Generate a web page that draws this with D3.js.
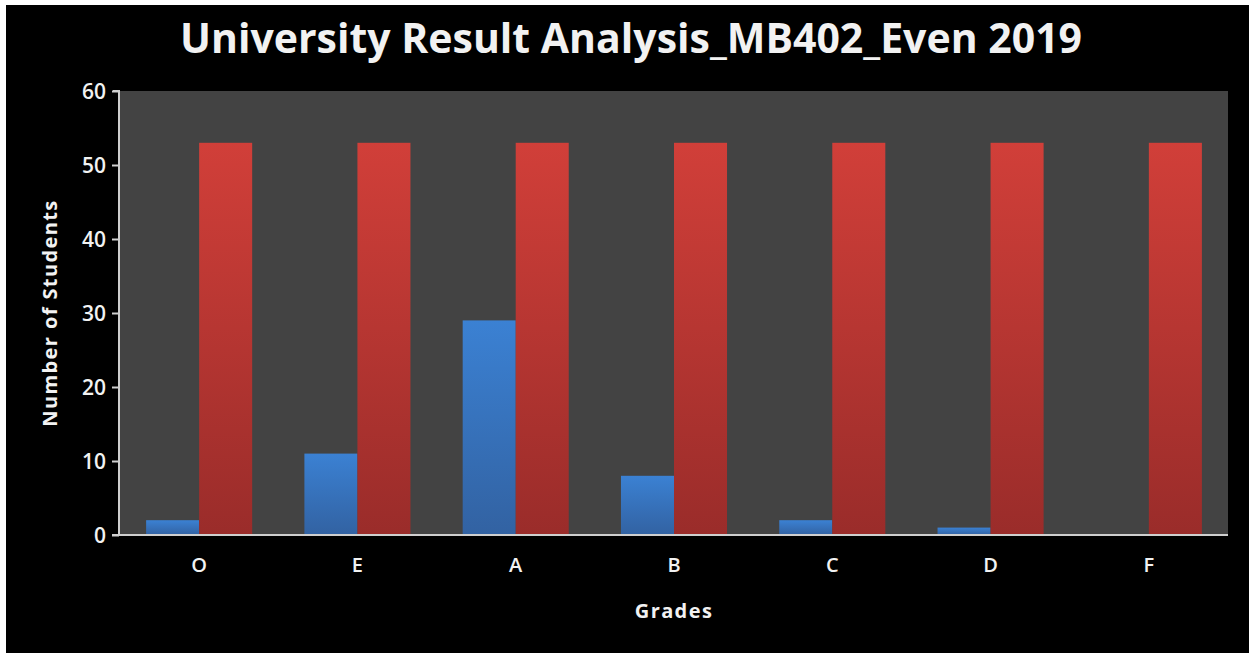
<!DOCTYPE html>
<html>
<head>
<meta charset="utf-8">
<script src="https://cdn.jsdelivr.net/npm/d3@7"></script>
<style>
  html, body { margin: 0; padding: 0; background: #fff; }
  svg { display: block; }
  text { font-family: "Open Sans", "Noto Sans", sans-serif; fill: #f2f2f2; }
</style>
</head>
<body>
<svg id="chart" width="1249" height="653"></svg>
<script>
// Grade categories and student counts
const grades = ["O", "E", "A", "B", "C", "D", "F"];
const gradeCounts = [2, 11, 29, 8, 2, 1, 0];
const totalStudents = [53, 53, 53, 53, 53, 53, 53];
const yTicks = [0, 10, 20, 30, 40, 50, 60];

const W = 1249, H = 653;
const margin = { left: 120, right: 21, top: 91, bottom: 118 };
const svg = d3.select("#chart");

// black canvas (thin white strip left and top)
svg.append("rect").attr("x", 6).attr("y", 5).attr("width", W - 6).attr("height", H - 5).attr("fill", "#000");

const defs = svg.append("defs");
const blueGrad = defs.append("linearGradient").attr("id", "gBlue").attr("x1", 0).attr("y1", 0).attr("x2", 0).attr("y2", 1);
blueGrad.append("stop").attr("offset", "0%").attr("stop-color", "#3b81d3");
blueGrad.append("stop").attr("offset", "100%").attr("stop-color", "#3262a2");
const redGrad = defs.append("linearGradient").attr("id", "gRed").attr("x1", 0).attr("y1", 0).attr("x2", 0).attr("y2", 1);
redGrad.append("stop").attr("offset", "0%").attr("stop-color", "#d13f39");
redGrad.append("stop").attr("offset", "100%").attr("stop-color", "#9a2c2a");

const x0 = margin.left, x1 = W - margin.right;
const y0 = H - margin.bottom, y1 = margin.top;

const x = d3.scaleBand().domain(grades).range([x0, x1]).paddingInner(0.33).paddingOuter(0.165);
const xs = d3.scaleBand().domain(["grade", "total"]).range([0, x.bandwidth()]);
const y = d3.scaleLinear().domain([0, 60]).range([y0, y1]);

// plot background
svg.append("rect").attr("x", x0).attr("y", y1).attr("width", x1 - x0).attr("height", y0 - y1).attr("fill", "#434343");

// bars
const groups = svg.append("g").selectAll("g").data(grades).join("g")
  .attr("transform", d => `translate(${x(d)},0)`);
groups.append("rect")
  .attr("x", xs("grade")).attr("width", xs.bandwidth())
  .attr("y", (d, i) => y(gradeCounts[i])).attr("height", (d, i) => y(0) - y(gradeCounts[i]))
  .attr("fill", "url(#gBlue)");
groups.append("rect")
  .attr("x", xs("total")).attr("width", xs.bandwidth())
  .attr("y", (d, i) => y(totalStudents[i])).attr("height", (d, i) => y(0) - y(totalStudents[i]))
  .attr("fill", "url(#gRed)");

// y axis
const yAxis = svg.append("g").attr("transform", `translate(${x0 - 1},0)`)
  .call(d3.axisLeft(y).tickValues(yTicks).tickSize(7).tickPadding(6));
yAxis.selectAll("path, line").attr("stroke", "#cfcfcf").attr("stroke-width", 2);
yAxis.select(".domain").attr("d", `M0,${y0}V${y1}H-6`);
yAxis.selectAll("text").attr("font-size", 21).attr("font-weight", 600).attr("fill", "#f2f2f2")
  .attr("dy", "0.35em")
  .style("font-family", "'Open Sans', sans-serif");

// x axis
const xAxis = svg.append("g").attr("transform", `translate(0,${y0})`)
  .call(d3.axisBottom(x).tickSize(0).tickPadding(23));
xAxis.select(".domain").attr("d", `M${x0 - 8},0H${x1}`).attr("stroke", "#cfcfcf").attr("stroke-width", 2);
xAxis.selectAll("text").attr("font-size", 20).attr("font-weight", 600).attr("fill", "#f2f2f2")
  .style("font-family", "'Open Sans', sans-serif");

// title
svg.append("text").attr("x", 631).attr("y", 53).attr("text-anchor", "middle")
  .attr("font-size", 41).attr("font-weight", 700).attr("fill", "#fff")
  .text("University Result Analysis_MB402_Even 2019");

// axis titles
svg.append("text").attr("x", (x0 + x1) / 2).attr("y", 618).attr("text-anchor", "middle")
  .attr("font-size", 20).attr("font-weight", 700).attr("letter-spacing", 1.4).text("Grades");
svg.append("text").attr("transform", `translate(57,${(y0 + y1) / 2}) rotate(-90)`).attr("text-anchor", "middle")
  .attr("font-size", 20).attr("font-weight", 700).attr("letter-spacing", 1.4).text("Number of Students");
</script>
</body>
</html>
